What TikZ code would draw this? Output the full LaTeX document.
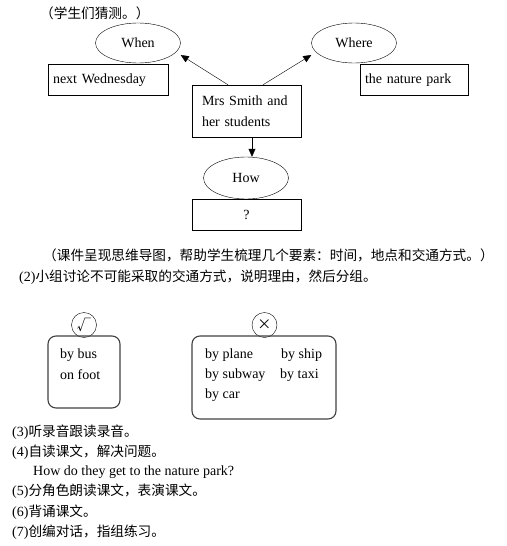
\documentclass[tikz,border=0pt]{standalone}
\usepackage{fontspec}
\setmainfont{Liberation Serif}
\newfontfamily\cjk[Scale=0.975]{Noto Sans CJK SC}
\usetikzlibrary{positioning, arrows.meta, shapes.geometric}

\begin{document}
\begin{tikzpicture}[x=1pt, y=-1pt, >={Triangle[length=8pt, width=7pt]},
  font=\fontsize{14}{21}\selectfont,
  oval/.style={draw, ellipse, inner sep=0pt, minimum width=85pt, minimum height=40pt},
  box/.style={draw, rectangle, inner sep=0pt, minimum height=31pt},
  group/.style={draw=black!75, line width=1.1pt, rounded corners=8pt, inner sep=0pt},
  tick/.style={draw, circle, inner sep=0pt, minimum size=25pt},
  line/.style={anchor=west, inner sep=0pt}]
  \useasboundingbox (0,0) rectangle (506,546);

  \node[line] (t1) at (40,13) {\cjk （学生们猜测。）};

  % mind map
  \node[oval] (When)  at (138,43) {When};
  \node[oval] (Where) at (354,43) {Where};
  \node[box, minimum width=120pt, text width=110pt, align=left] (Wed)  at (108,80) {next Wednesday};
  \node[box, minimum width=108pt, text width=98pt, align=left] (Park) at (414,80) {the nature park};
  \node[box, minimum width=109pt, minimum height=52pt, align=left,
        text width=89pt] (M) at (246.5,111) {Mrs Smith and\\her students};
  \node[oval, minimum height=42pt] (How) at (246,178) {How};
  \node[box, minimum width=109pt] (Q) at (246.5,214.5) {?};
  \draw[->] ([xshift=-18.5pt]M.north) -- ([yshift=-12pt]When.east);
  \draw[->] ([xshift=16.5pt]M.north) -- ([yshift=-12pt]Where.west);
  \draw[->] ([xshift=5.5pt]M.south) -- ([xshift=6pt]How.north);

  \node[line] (t2) at (43,255) {\cjk （课件呈现思维导图，帮助学生梳理几个要素：时间，地点和交通方式。）};
  \node[line] (t3) at (19,277) {(2)\cjk 小组讨论不可能采取的交通方式，说明理由，然后分组。};

  % groups
  \node[tick] (Yes) at (84,325) {\cjk\Large √};
  \node[group, minimum width=72pt, minimum height=72pt] (L) at (84,372) {};
  \node[line] (bus)  at (60,355) {by bus};
  \node[line] (foot) at (60,375) {on foot};

  \node[tick] (No) at (264.5,325) {\cjk\Large ×};
  \node[group, minimum width=144pt, minimum height=83pt] (R) at (264,377.5) {};
  \node[line] (plane)  at (205,355) {by plane};
  \node[line] (ship)   at (281,355) {by ship};
  \node[line] (subway) at (205,375) {by subway};
  \node[line] (taxi)   at (280,375) {by taxi};
  \node[line] (car)    at (205,395) {by car};

  % steps
  \node[line] (s3) at (12,432) {(3)\cjk 听录音跟读录音。};
  \node[line] (s4) at (12,452) {(4)\cjk 自读课文，解决问题。};
  \node[line] (q)  at (33,472) {How do they get to the nature park?};
  \node[line] (s5) at (12,491) {(5)\cjk 分角色朗读课文，表演课文。};
  \node[line] (s6) at (12,512) {(6)\cjk 背诵课文。};
  \node[line] (s7) at (12,532) {(7)\cjk 创编对话，指组练习。};
\end{tikzpicture}
\end{document}
